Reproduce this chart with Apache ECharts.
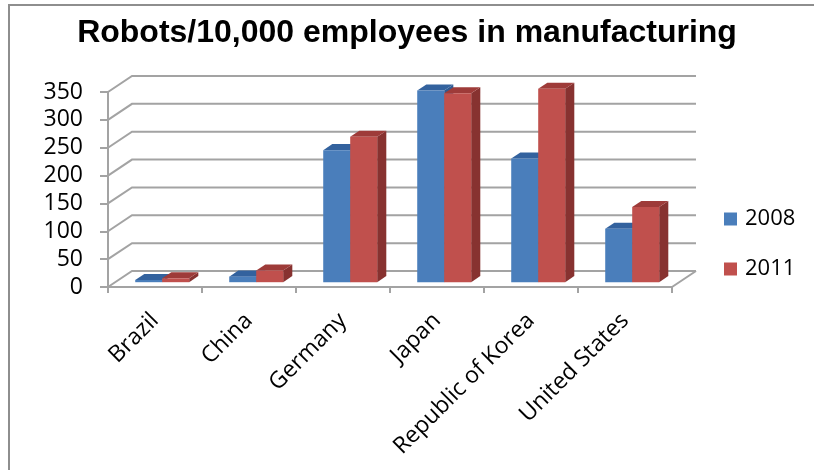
<!DOCTYPE html>
<html>
<head>
<meta charset="utf-8">
<script src="https://cdn.jsdelivr.net/npm/echarts@6/dist/echarts.min.js"></script>
<style>
  html, body { margin: 0; padding: 0; background: #ffffff; }
  #chart { width: 814px; height: 470px; }
</style>
</head>
<body>
<div id="chart"></div>
<script>
// Robot density (robots per 10,000 manufacturing employees)
const countries = ['Brazil', 'China', 'Germany', 'Japan', 'Republic of Korea', 'United States'];
const years = ['2008', '2011'];
const density2008 = [4, 10, 237, 344, 222, 96];
const density2011 = [7, 21, 261, 339, 347, 135];
const yTicks = [0, 50, 100, 150, 200, 250, 300, 350];

// Pseudo-3D projection: full depth of the box, and where the columns sit in it
const DEPTH_X = 24;
const DEPTH_Y = 16;
const FRONT_F = 0.30;
const BACK_F = 0.68;
const BAR_FRAC = 0.287;

const WALL_COLOR = '#a3a3a3';
const LABEL_FONT = '"Open Sans", "Noto Sans", sans-serif';

const palettes = [
  { front: '#4A7EBB', top: '#33629E', side: '#2F5A91' },
  { front: '#C0504D', top: '#9E3B39', side: '#873230' }
];

// Back wall, side wall and floor edges drawn from the value axis ticks
function renderWall(params, api) {
  const cs = params.coordSys;
  const v = api.value(1);
  const y = api.coord([0, v])[1];
  const x0 = cs.x;
  const x1 = cs.x + cs.width;
  const children = [{
    type: 'polyline',
    shape: { points: [[x0, y], [x0 + DEPTH_X, y - DEPTH_Y], [x1 + DEPTH_X, y - DEPTH_Y]] },
    style: { stroke: WALL_COLOR, lineWidth: 2, fill: null }
  }];
  if (v === 0) {
    children.push({
      type: 'line',
      shape: { x1: x1, y1: y, x2: x1 + DEPTH_X, y2: y - DEPTH_Y },
      style: { stroke: WALL_COLOR, lineWidth: 2 }
    });
  }
  return { type: 'group', children: children };
}

// Column with front, top and right faces
function columnRenderer(slot) {
  const pal = palettes[slot];
  return function (params, api) {
    const i = api.value(0);
    const v = api.value(1);
    const catW = api.size([1, 0])[0];
    const bw = catW * BAR_FRAC;
    const base = api.coord([i, 0]);
    const top = api.coord([i, v]);
    const xl = base[0] - bw + slot * bw;
    const xr = xl + bw;
    const fx = DEPTH_X * FRONT_F, fy = DEPTH_Y * FRONT_F;
    const bx = DEPTH_X * BACK_F, by = DEPTH_Y * BACK_F;
    const yb = base[1];
    const yt = top[1];
    return {
      type: 'group',
      children: [
        {
          type: 'polygon',
          shape: { points: [[xr + fx, yt - fy], [xr + bx, yt - by], [xr + bx, yb - by], [xr + fx, yb - fy]] },
          style: { fill: pal.side }
        },
        {
          type: 'polygon',
          shape: { points: [[xl + fx, yt - fy], [xr + fx, yt - fy], [xr + bx, yt - by], [xl + bx, yt - by]] },
          style: { fill: pal.top }
        },
        {
          type: 'rect',
          shape: { x: xl + fx, y: yt - fy, width: bw, height: (yb - fy) - (yt - fy) },
          style: { fill: pal.front }
        }
      ]
    };
  };
}

const chart = echarts.init(document.getElementById('chart'), null, { renderer: 'canvas' });

chart.setOption({
  backgroundColor: '#ffffff',
  animation: false,
  // Chart-area frame: top and left edges
  graphic: [{
    type: 'polyline',
    shape: { points: [[9, 470], [9, 5], [814, 5]] },
    style: { fill: null, stroke: '#8e8e8e', lineWidth: 2 },
    silent: true,
    z: 0
  }],
  title: {
    text: 'Robots/10,000 employees in manufacturing',
    left: 'center',
    top: 12,
    textStyle: {
      fontFamily: '"Liberation Sans", Arial, sans-serif',
      fontWeight: 'bold',
      fontSize: 32,
      color: '#000000'
    }
  },
  legend: {
    orient: 'vertical',
    left: 719,
    top: 203,
    icon: 'rect',
    itemWidth: 13,
    itemHeight: 13,
    itemGap: 28,
    data: years,
    textStyle: { fontFamily: LABEL_FONT, fontSize: 22, color: '#000000', padding: [0, 0, 0, 3] }
  },
  grid: { left: 108, right: 142, top: 92, bottom: 183, containLabel: false },
  xAxis: {
    type: 'category',
    data: countries,
    boundaryGap: true,
    axisLine: { show: true, lineStyle: { color: WALL_COLOR, width: 2 } },
    axisTick: { show: true, length: 6, lineStyle: { color: WALL_COLOR, width: 2 } },
    axisLabel: {
      rotate: 45,
      margin: 30,
      interval: 0,
      fontFamily: LABEL_FONT,
      fontSize: 23,
      color: '#000000'
    },
    splitLine: { show: false }
  },
  yAxis: {
    type: 'value',
    min: 0,
    max: 350,
    interval: 50,
    axisLine: { show: true, lineStyle: { color: WALL_COLOR, width: 2 } },
    axisTick: { show: true, length: 8, lineStyle: { color: WALL_COLOR, width: 2 } },
    axisLabel: { margin: 25, fontFamily: LABEL_FONT, fontSize: 23, color: '#000000' },
    splitLine: { show: false }
  },
  series: [
    {
      name: 'walls',
      type: 'custom',
      renderItem: renderWall,
      data: yTicks.map(v => [0, v]),
      encode: { x: 0, y: 1 },
      clip: false,
      silent: true,
      z: 1
    },
    {
      name: years[0],
      type: 'custom',
      renderItem: columnRenderer(0),
      data: density2008.map((v, i) => [i, v]),
      encode: { x: 0, y: 1 },
      itemStyle: { color: palettes[0].front },
      clip: false,
      z: 3
    },
    {
      name: years[1],
      type: 'custom',
      renderItem: columnRenderer(1),
      data: density2011.map((v, i) => [i, v]),
      encode: { x: 0, y: 1 },
      itemStyle: { color: palettes[1].front },
      clip: false,
      z: 4
    }
  ]
});
</script>
</body>
</html>
